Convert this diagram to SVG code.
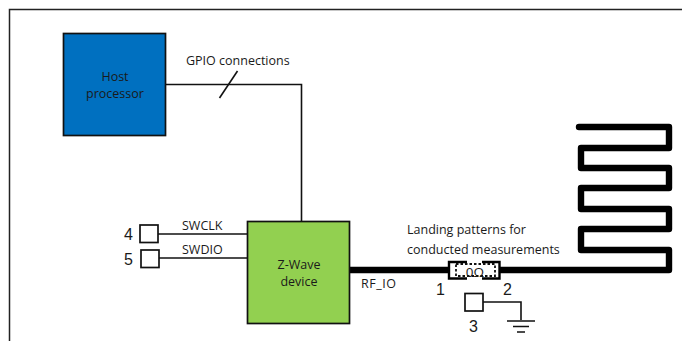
<svg xmlns="http://www.w3.org/2000/svg" width="682" height="341" viewBox="0 0 682 341">
<style>
text{font-family:"Open Sans","Liberation Sans",sans-serif;font-size:12.500px;fill:#1a1a1a}
.n{font-family:"Liberation Sans",Arial,sans-serif;font-size:16px}
.c{text-anchor:middle}
.l{fill:none;stroke:#111;stroke-width:1.600}
.d{fill:none;stroke:#000;stroke-width:2.400}
.t{fill:none;stroke:#000;stroke-width:6.400;stroke-linejoin:round;stroke-linecap:round}
.b{stroke:#111;stroke-width:1.700}
.p{fill:#fff;stroke:#111;stroke-width:1.700}
</style>
<rect width="682" height="341" fill="#fff"/>
<path id="frame" d="M9.500 341V9.500H682" fill="none" stroke="#222" stroke-width="1.500"/>
<g id="connectors">
<path class="l" d="M165 84.500H301.500V221"/>
<path class="l" d="M219.500 98L237.500 71"/>
<path class="l" d="M158 234H247"/>
<path class="l" d="M159 258H247"/>
<path class="l" d="M483 302H521V320"/>
<path class="l" d="M507 321H535M513 326.500H529M517 332H525"/>
<path d="M349 270H448" fill="none" stroke="#000" stroke-width="6.400"/>
<path d="M500 270H669V250H581V229H669V209H581V188H669V168H581V148H669V127H579" class="t"/>
</g>
<g id="host"><rect class="b" x="63.500" y="33.500" width="102" height="102" fill="#0070c0"/>
<text class="c" x="115" y="81">Host</text><text class="c" x="115" y="98">processor</text></g>
<g id="zwave"><rect class="b" x="247.500" y="221.500" width="102" height="102" fill="#92d050"/>
<text class="c" x="299" y="269">Z-Wave</text><text class="c" x="299" y="286">device</text></g>
<g id="pin4"><rect class="p" x="140" y="225" width="18" height="17.500"/><text class="n" x="124" y="240">4</text></g>
<g id="pin5"><rect class="p" x="141" y="250" width="18" height="17.500"/><text class="n" x="124" y="265">5</text></g>
<g id="pin3"><rect class="p" x="465" y="293.500" width="18" height="17.500"/><text class="n" x="469" y="332">3</text></g>
<g id="pads">
<rect x="449" y="262" width="51" height="17" fill="#fff"/>
<path class="d" d="M467 262H449V278.500H467"/>
<path class="d" d="M482 262H499.500V278.500H482"/>
<rect x="456" y="264" width="39" height="12" fill="none" stroke="#111" stroke-width="1.800" stroke-dasharray="2.500 2"/>
<text class="c" x="475" y="277" style="font-size:13.500px">0Ω</text>
</g>
<text x="186" y="65">GPIO connections</text>
<text x="182" y="230">SWCLK</text>
<text x="182" y="254">SWDIO</text>
<text x="361" y="288" style="letter-spacing:.5px">RF_IO</text>
<text x="407" y="234">Landing patterns for</text>
<text x="407" y="254">conducted measurements</text>
<text class="n" x="436" y="295">1</text>
<text class="n" x="503" y="295">2</text>
</svg>
